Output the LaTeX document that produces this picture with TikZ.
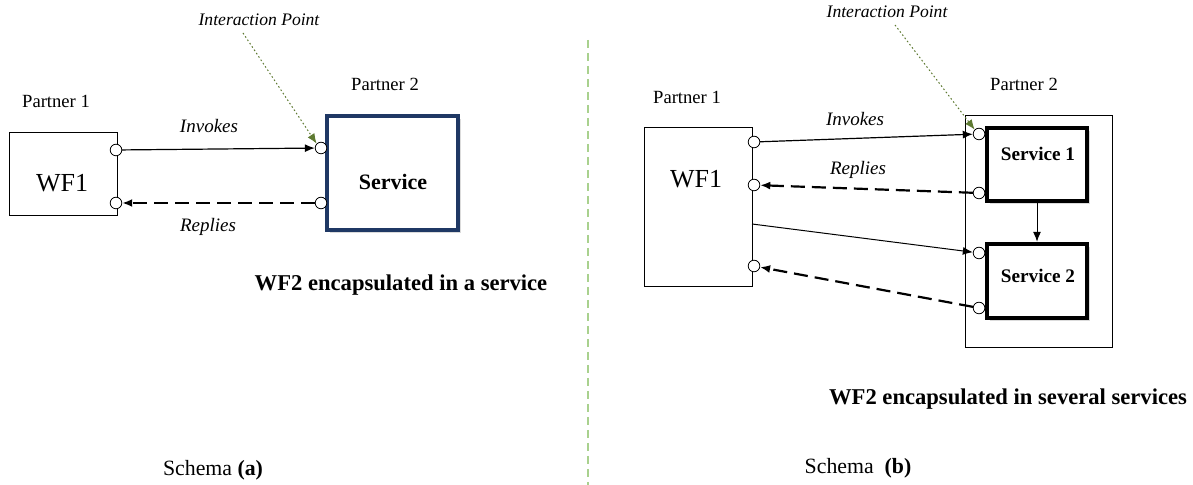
\documentclass[tikz,border=0pt]{standalone}
\usepackage{fontspec}
\setmainfont{Liberation Serif}
\usetikzlibrary{arrows.meta,shadows}

\definecolor{navyline}{HTML}{1F3864}
\definecolor{olivetip}{HTML}{5E7A32}
\definecolor{splitgreen}{HTML}{A9D18E}

\tikzset{
  port/.style={circle,draw,fill=white,inner sep=0pt,minimum size=5.8pt,line width=0.4pt},
  wfbox/.style={draw,line width=0.5pt,inner sep=0pt},
  svcbox/.style={draw,fill=white,inner sep=0pt,line width=2.2pt,
    drop shadow={shadow xshift=1.4pt,shadow yshift=-1.4pt,fill=black!28}},
  invoke/.style={line width=0.6pt,-{Latex[length=5pt,width=4pt]}},
  reply/.style={line width=1.1pt,dash pattern=on 7pt off 3.5pt,-{Latex[length=5pt,width=4pt]}},
  ipoint/.style={olivetip,line width=0.5pt,dash pattern=on 0.8pt off 1.2pt,-{Latex[length=5pt,width=4pt]}},
  small/.style={font=\fontsize{8.8}{10}\selectfont\itshape},
  lbl/.style={font=\fontsize{9.3}{11}\selectfont},
  arrlbl/.style={font=\fontsize{9.5}{11}\selectfont\itshape},
  big/.style={font=\fontsize{13}{15}\selectfont},
  caption/.style={font=\fontsize{11.3}{13}\selectfont\bfseries},
  schema/.style={font=\fontsize{10.9}{13}\selectfont}
}

\begin{document}
\begin{tikzpicture}[x=0.5pt,y=-0.5pt]
\useasboundingbox (0,0) rectangle (1193,485);

% Schema (a)
\node[wfbox,minimum width=54pt,minimum height=41.5pt] (wfa) at (63,174.5) {};
\node[big] (wfatext) at (62,183) {WF1};
\node[lbl] (pa1) at (56,101) {Partner 1};
\node[svcbox,draw=navyline,minimum width=65.5pt,minimum height=57pt] (svc) at (392.5,173) {};
\node[lbl,font=\fontsize{11}{13}\selectfont\bfseries] (svctext) at (393,182) {Service};
\node[lbl] (pa2) at (385,84) {Partner 2};
\node[port] (a1) at (116,150) {};
\node[port] (a2) at (116,203) {};
\node[port] (a3) at (321,148) {};
\node[port] (a4) at (321,203) {};
\draw[invoke] (a1) -- (a3);
\draw[reply] (a4) -- (a2);
\node[arrlbl] (inva) at (209,126) {Invokes};
\node[arrlbl] (repa) at (208,227) {Replies};
\node[small] (ipa) at (259,20) {Interaction Point};
\coordinate (ipafrom) at (243,33);
\draw[ipoint] (ipafrom) -- (a3.north west);
\node[caption] (capa) at (401,285) {WF2 encapsulated in a service};
\node[schema] (scha) at (213,470) {Schema \textbf{(a)}};

% Separator
\coordinate (septop) at (588,40);
\coordinate (sepbot) at (588,485);
\draw[splitgreen,line width=0.7pt,dash pattern=on 4pt off 2.5pt] (septop) -- (sepbot);

% Schema (b)
\node[wfbox,minimum width=54pt,minimum height=79.5pt] (wfb) at (698,207.5) {};
\node[big] (wfbtext) at (696,179) {WF1};
\node[lbl] (pb1) at (687,97) {Partner 1};
\node[wfbox,minimum width=73.5pt,minimum height=116pt] (grp) at (1038.5,232) {};
\node[lbl] (pb2) at (1024,84) {Partner 2};
\node[svcbox,minimum width=50pt,minimum height=36.5pt] (s1) at (1037,164.5) {};
\node[svcbox,minimum width=50pt,minimum height=37pt] (s2) at (1037,281) {};
\node[lbl,font=\fontsize{9.6}{11}\selectfont\bfseries] (s1text) at (1038,154) {Service 1};
\node[lbl,font=\fontsize{9.6}{11}\selectfont\bfseries] (s2text) at (1038,276) {Service 2};
\node[port] (b1) at (754,142) {};
\node[port] (b2) at (754,185) {};
\node[port] (b3) at (754,266) {};
\node[port] (c1) at (979,134) {};
\node[port] (c2) at (979,193) {};
\node[port] (c3) at (979,253) {};
\node[port] (c4) at (979,308) {};
\coordinate (wfbout) at (752,224);
\draw[invoke] (b1) -- (c1);
\draw[reply] (c2) -- (b2);
\draw[invoke,line width=0.5pt] (wfbout) -- (c3);
\draw[reply] (c4) -- (b3);
\draw[invoke,line width=0.5pt] (s1) -- (s2);
\node[arrlbl] (invb) at (855,119) {Invokes};
\node[arrlbl] (repb) at (858,170) {Replies};
\node[small] (ipb) at (887,12) {Interaction Point};
\coordinate (ipbfrom) at (895,25);
\draw[ipoint] (ipbfrom) -- (c1.north west);
\node[caption] (capb) at (1008,399) {WF2 encapsulated in several services};
\node[schema] (schb) at (858,468) {Schema\ \ \textbf{(b)}};
\end{tikzpicture}
\end{document}
